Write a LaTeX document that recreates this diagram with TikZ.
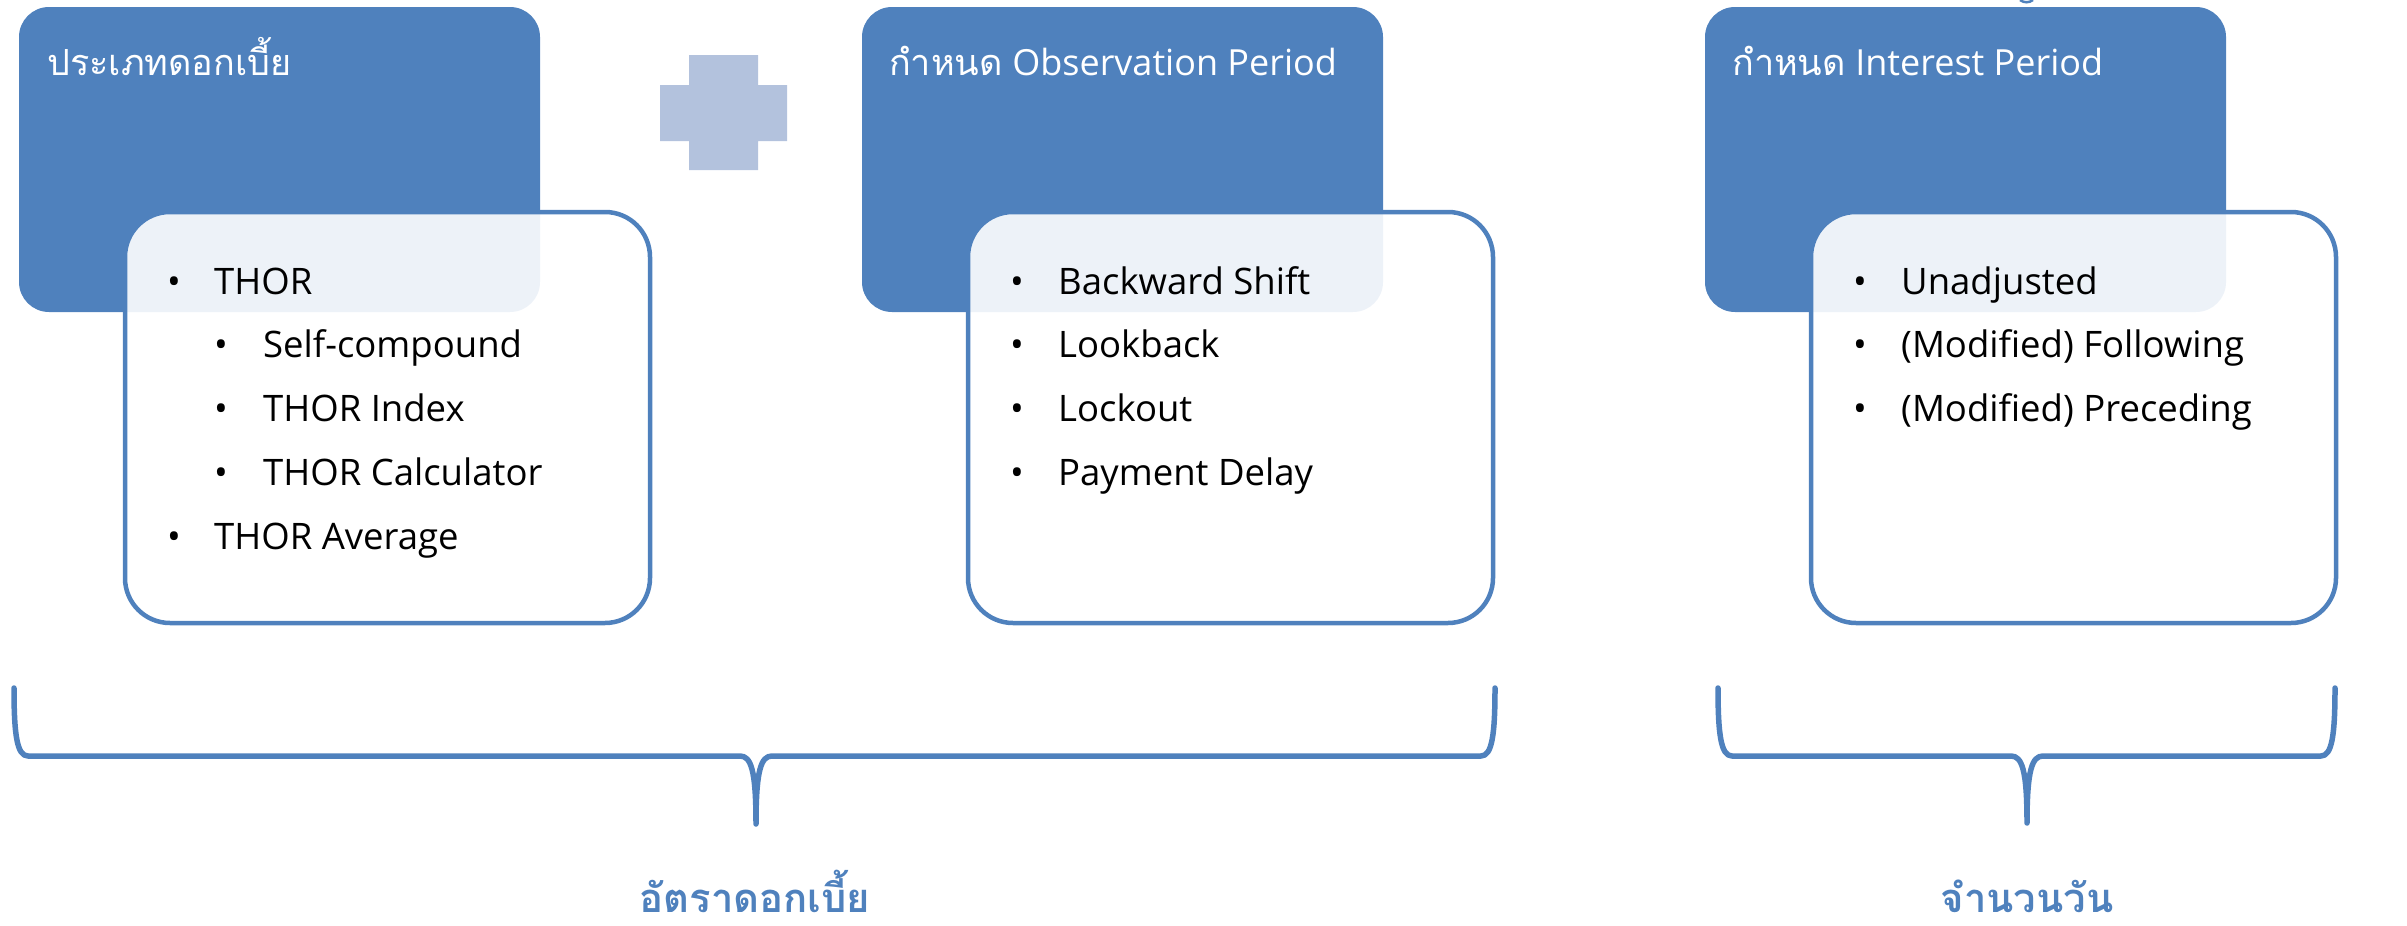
\documentclass[tikz,border=0pt]{standalone}
\usepackage{fontspec}
\setmainfont{Open Sans}
\newfontfamily\thai[Script=Thai]{Loma}
\definecolor{boxblue}{HTML}{4F81BD}
\definecolor{plusblue}{HTML}{B3C2DD}
\tikzset{
  darkbox/.style={fill=boxblue, rounded corners=30pt, inner sep=0pt, outer sep=0pt, anchor=north west,
    minimum width=521pt, minimum height=305pt},
  listbox/.style={draw=boxblue, line width=4.5pt, fill=white, fill opacity=0.9, draw opacity=1,
    rounded corners=45pt, inner sep=0pt, outer sep=0pt, anchor=north west, minimum width=525pt, minimum height=411pt},
  titletext/.style={text=white, anchor=base west, inner sep=0pt, font=\fontsize{36}{40}\selectfont},
  itemtext/.style={text=black, anchor=base west, inner sep=0pt, font=\fontsize{36.5}{40}\selectfont},
  bracestroke/.style={draw=boxblue, line width=5.5pt, line cap=round, line join=round},
  bracelabel/.style={text=boxblue, anchor=base, inner sep=0pt, font=\thai\bfseries\fontsize{40}{44}\selectfont}
}
\begin{document}
\begin{tikzpicture}[x=1pt,y=-1pt]
\useasboundingbox (0,0) rectangle (2407,926);

% ---- box set 1
\node[darkbox] (d1) at (19,7) {};
\node[titletext] (t1) at (47,75) {\thai ประเภทดอกเบี้ย};
\node[listbox] (w1) at (125,212) {};
\node[itemtext] (b11) at (167,294) {•};
\node[itemtext] (i11) at (214,294) {THOR};
\node[itemtext] (b12) at (214,357) {•};
\node[itemtext] (i12) at (263,357) {Self-compound};
\node[itemtext] (b13) at (214,421) {•};
\node[itemtext] (i13) at (263,421) {THOR Index};
\node[itemtext] (b14) at (214,485) {•};
\node[itemtext] (i14) at (263,485) {THOR Calculator};
\node[itemtext] (b15) at (167,549) {•};
\node[itemtext] (i15) at (214,549) {THOR Average};

% ---- plus sign
\fill[plusblue] (689,55) -- (758,55) -- (758,85) -- (787,85) -- (787,141) -- (758,141)
  -- (758,170) -- (689,170) -- (689,141) -- (660,141) -- (660,85) -- (689,85) -- cycle;

% ---- box set 2
\node[darkbox] (d2) at (862,7) {};
\node[titletext] (t2) at (889,75) {{\thai กำหนด} Observation Period};
\node[listbox] (w2) at (968,212) {};
\node[itemtext] (b21) at (1010,294) {•};
\node[itemtext] (i21) at (1058,294) {Backward Shift};
\node[itemtext] (b22) at (1010,357) {•};
\node[itemtext] (i22) at (1058,357) {Lookback};
\node[itemtext] (b23) at (1010,421) {•};
\node[itemtext] (i23) at (1058,421) {Lockout};
\node[itemtext] (b24) at (1010,485) {•};
\node[itemtext] (i24) at (1058,485) {Payment Delay};

% ---- box set 3
\node[darkbox] (d3) at (1705,7) {};
\node[titletext] (t3) at (1732,75) {{\thai กำหนด} Interest Period};
\node[listbox] (w3) at (1811,212) {};
\node[itemtext] (b31) at (1853,294) {•};
\node[itemtext] (i31) at (1901,294) {Unadjusted};
\node[itemtext] (b32) at (1853,357) {•};
\node[itemtext] (i32) at (1901,357) {(Modified) Following};
\node[itemtext] (b33) at (1853,421) {•};
\node[itemtext] (i33) at (1901,421) {(Modified) Preceding};

% ---- braces
\coordinate (a1) at (14,688);
\coordinate (a2) at (1495,688);
\coordinate (a3) at (756,824);
\draw[bracestroke] (a1) .. controls (14,735) and (17,756) .. (28,756) -- (740,756)
  .. controls (751,756) and (756,770) .. (a3)
  .. controls (756,770) and (761,756) .. (772,756) -- (1481,756)
  .. controls (1492,756) and (1495,735) .. (a2);
\coordinate (c1) at (1718,688);
\coordinate (c2) at (2335,688);
\coordinate (c3) at (2027,823);
\draw[bracestroke] (c1) .. controls (1718,735) and (1721,756) .. (1732,756) -- (2011,756)
  .. controls (2022,756) and (2027,770) .. (c3)
  .. controls (2027,770) and (2032,756) .. (2043,756) -- (2321,756)
  .. controls (2332,756) and (2335,735) .. (c2);
\coordinate (e1) at (2020,0);
\coordinate (e2) at (2033,0);
\draw[draw=boxblue, line width=2.5pt] (e1) .. controls (2024,3) and (2029,3) .. (e2);

\node[bracelabel] (l1) at (755,912) {อัตราดอกเบี้ย};
\node[bracelabel] (l2) at (2027,912) {จำนวนวัน};
\end{tikzpicture}
\end{document}
